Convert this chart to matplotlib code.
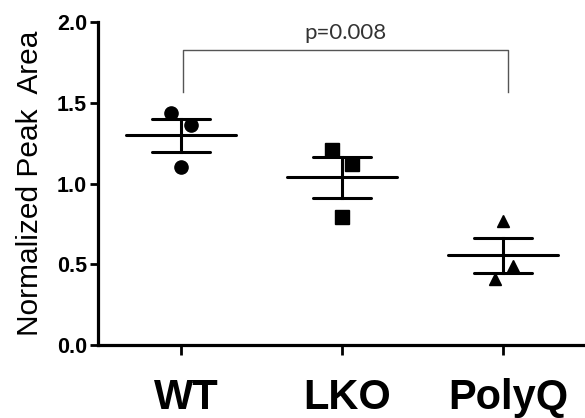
import matplotlib
matplotlib.use("Agg")
import matplotlib.pyplot as plt
import matplotlib.transforms as mtransforms
import numpy as np

groups = ["WT", "LKO", "PolyQ"]
wt_vals = [1.44, 1.36, 1.10]
lko_vals = [1.21, 1.12, 0.79]
polyq_vals = [0.77, 0.49, 0.41]
markers = ["o", "s", "^"]
yticks = [0.0, 0.5, 1.0, 1.5, 2.0]
p_text = "p=0.008"

data = [wt_vals, lko_vals, polyq_vals]
# small horizontal offsets of the individual points (scatter jitter as drawn)
offsets = [[-0.06, 0.06, 0.0], [-0.06, 0.06, 0.0], [0.0, 0.06, -0.05]]

fig = plt.figure(figsize=(5.85, 4.18), dpi=100)
ax = fig.add_axes([0.1675, 0.1746, 0.8325, 0.7724])

for i, (vals, m, offs) in enumerate(zip(data, markers, offsets)):
    x = i + 1
    v = np.array(vals)
    mean = v.mean()
    sem = v.std(ddof=1) / np.sqrt(len(v))
    ax.plot([x + o for o in offs], v, linestyle="none", marker=m, color="black",
            markersize=9.5 if m != "^" else 9, zorder=3)
    ax.plot([x - 0.34, x + 0.34], [mean, mean], color="black", lw=2.2,
            solid_capstyle="round", zorder=4)
    ax.plot([x - 0.18, x + 0.18], [mean + sem, mean + sem], color="black", lw=2.2,
            solid_capstyle="round", zorder=4)
    ax.plot([x - 0.18, x + 0.18], [mean - sem, mean - sem], color="black", lw=2.2,
            solid_capstyle="round", zorder=4)
    ax.plot([x, x], [mean - sem, mean + sem], color="black", lw=2.2, zorder=4)

# significance bracket
ax.plot([1.01, 1.01, 3.03, 3.03], [1.567, 1.827, 1.827, 1.567], color="#555555", lw=1.0)
ax.text(2.02, 1.87, p_text, ha="center", va="bottom", fontsize=16,
        family="Lato", color="#333333")

ax.set_xlim(0.484, 3.51)
ax.set_ylim(0, 2.0)
ax.set_xticks([1, 2, 3])
ax.set_xticklabels(groups, fontsize=30, fontweight="bold", family="Liberation Sans")
ax.set_yticks(yticks)
ax.set_yticklabels([f"{t:.1f}" for t in yticks], fontsize=15.5, fontweight="bold",
                   family="Liberation Sans")
ax.set_ylabel("Normalized Peak  Area", fontsize=21.5, family="Liberation Sans", labelpad=9)

for s in ["top", "right"]:
    ax.spines[s].set_visible(False)
for s in ["left", "bottom"]:
    ax.spines[s].set_linewidth(2.3)
ax.tick_params(axis="x", length=7, width=2.0, pad=17)
ax.tick_params(axis="y", length=6, width=2.0, pad=2)

shift = mtransforms.ScaledTranslation(5 / 100, 0, fig.dpi_scale_trans)
for lbl in ax.get_xticklabels():
    lbl.set_transform(lbl.get_transform() + shift)

fig.savefig("out.png", dpi=100)
